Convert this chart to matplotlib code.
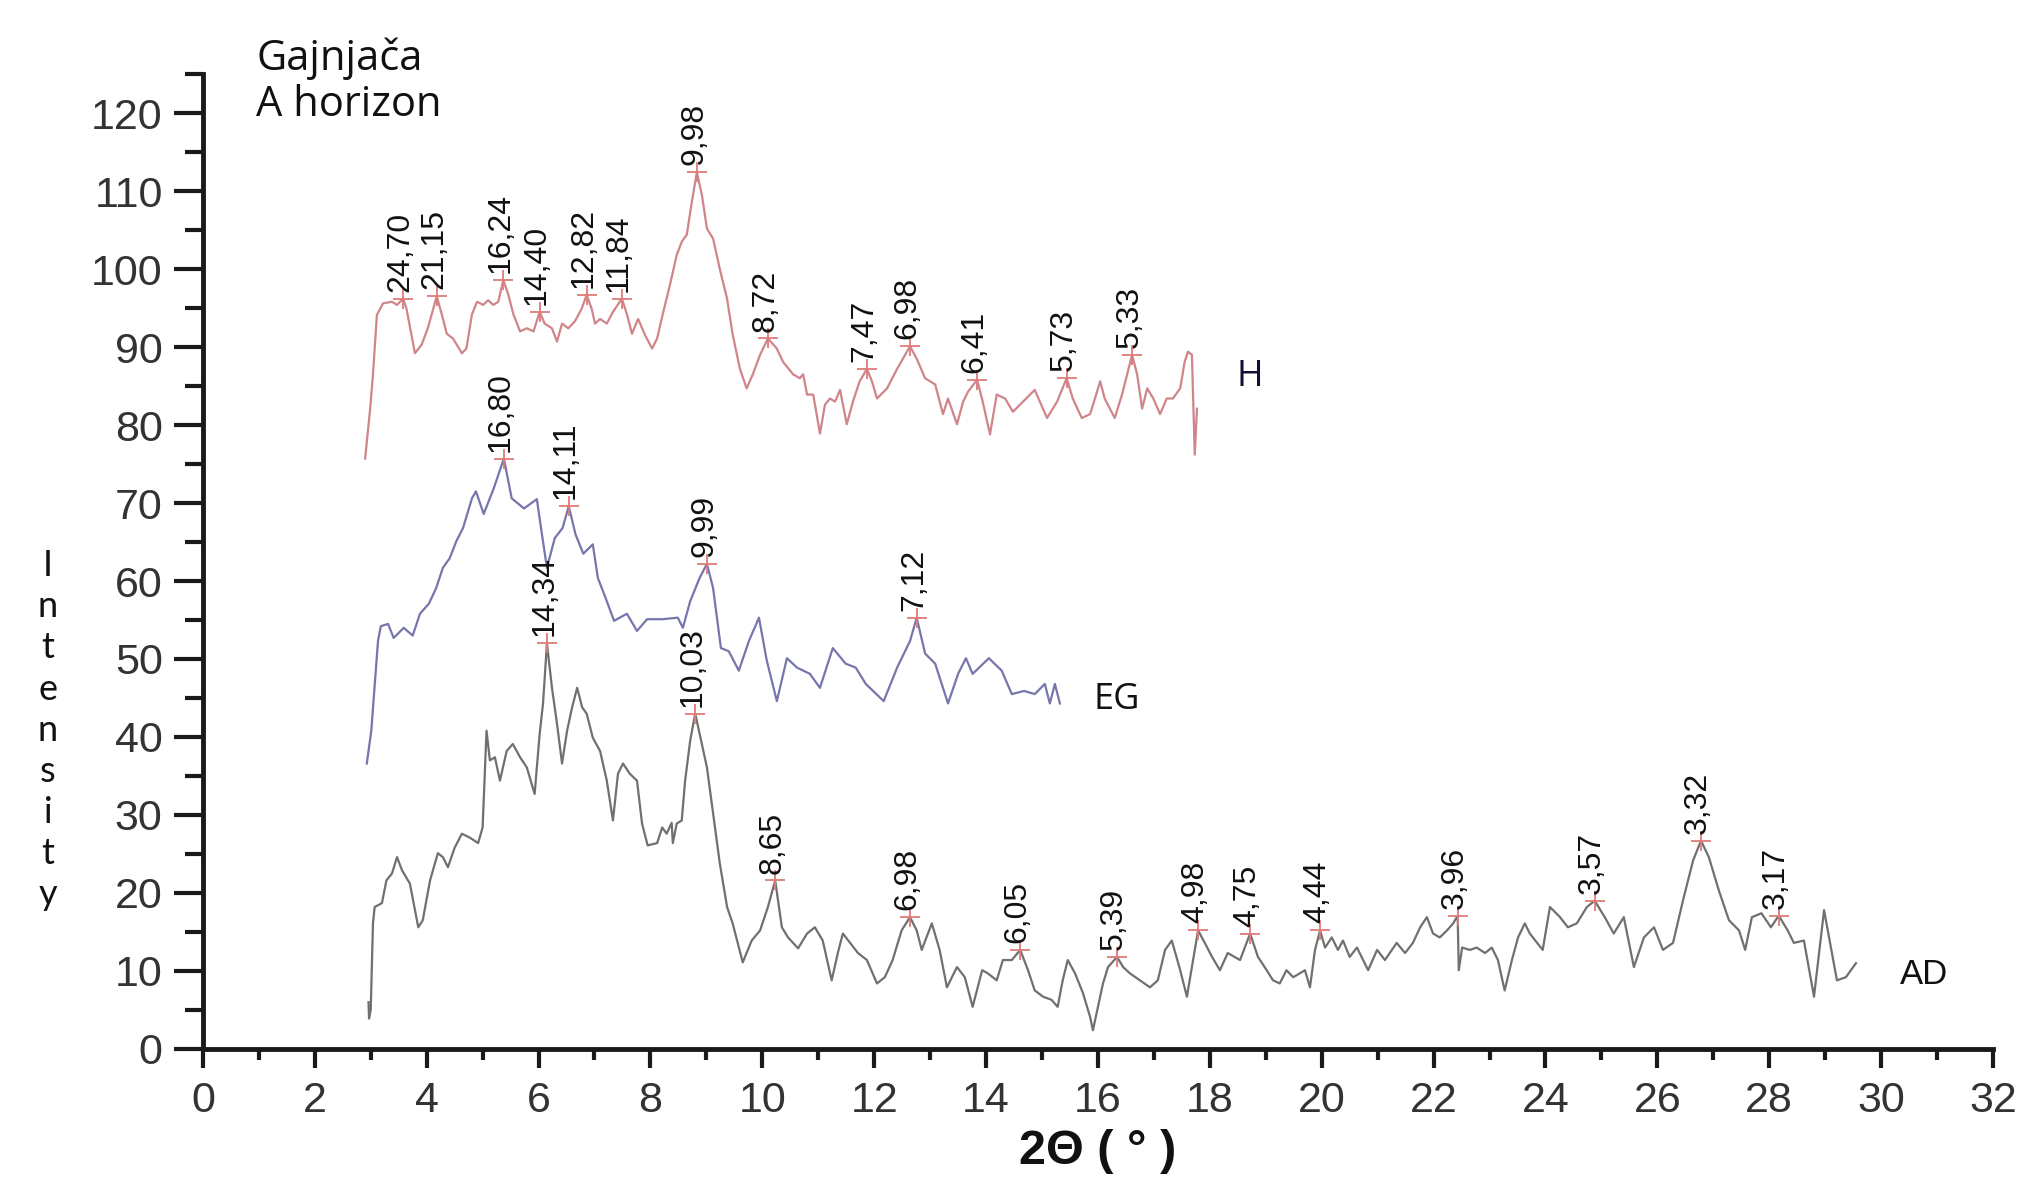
import matplotlib
matplotlib.use("Agg")
import matplotlib.pyplot as plt
from matplotlib.ticker import MultipleLocator

# H trace (red)
h_x = [2.90, 2.99, 3.04, 3.11, 3.22, 3.38, 3.47, 3.58, 3.64, 3.79, 3.91, 4.02, 4.18, 4.27, 4.36,
       4.47, 4.63, 4.71, 4.81, 4.90, 5.01, 5.10, 5.19, 5.28, 5.37, 5.46, 5.55, 5.67, 5.79, 5.91,
       6.02, 6.11, 6.24, 6.33, 6.42, 6.53, 6.65, 6.77, 6.86, 6.95, 7.01, 7.10, 7.22, 7.33, 7.49,
       7.58, 7.67, 7.78, 7.90, 8.03, 8.12, 8.22, 8.35, 8.47, 8.56, 8.65, 8.74, 8.83, 8.92, 9.01,
       9.12, 9.24, 9.37, 9.47, 9.60, 9.72, 9.83, 9.96, 10.10, 10.26, 10.37, 10.55, 10.67, 10.73,
       10.80, 10.91, 11.03, 11.12, 11.21, 11.30, 11.39, 11.51, 11.62, 11.74, 11.87, 11.96, 12.05,
       12.23, 12.41, 12.64, 12.76, 12.91, 13.09, 13.23, 13.32, 13.48, 13.59, 13.68, 13.84, 13.94,
       14.07, 14.19, 14.34, 14.48, 14.66, 14.87, 15.09, 15.27, 15.44, 15.55, 15.71, 15.86, 16.04,
       16.12, 16.30, 16.43, 16.61, 16.70, 16.79, 16.88, 16.99, 17.11, 17.23, 17.34, 17.47, 17.55,
       17.61, 17.68, 17.70, 17.73, 17.77]
h_y = [75.7, 82.1, 86.5, 94.1, 95.6, 95.8, 95.4, 96.2, 94.9, 89.2, 90.3, 92.4, 96.5, 94.2, 91.7,
       91.1, 89.2, 89.8, 94.2, 95.8, 95.4, 96.0, 95.4, 95.8, 98.6, 96.7, 94.2, 92.0, 92.4, 92.0,
       94.5, 93.0, 92.4, 90.7, 93.0, 92.4, 93.3, 94.9, 96.7, 94.9, 93.0, 93.6, 93.0, 94.5, 96.2,
       94.2, 91.7, 93.6, 91.6, 89.8, 91.1, 94.2, 98.0, 101.8, 103.5, 104.4, 108.6, 112.4, 109.5, 105.2,
       103.9, 100.0, 96.2, 91.6, 87.2, 84.7, 86.5, 89.0, 91.1, 89.8, 88.1, 86.5, 86.0, 86.5,
       83.9, 83.9, 78.9, 82.6, 83.4, 83.0, 84.5, 80.1, 83.0, 85.6, 87.2, 85.6, 83.4,
       84.7, 87.2, 90.1, 88.5, 86.0, 85.2, 81.4, 83.4, 80.1, 83.0, 84.3, 85.8, 83.0,
       78.8, 83.9, 83.4, 81.7, 83.0, 84.5, 80.9, 83.0, 86.0, 83.4, 80.9, 81.4, 85.6,
       83.4, 80.9, 83.9, 89.0, 86.5, 82.1, 84.7, 83.4, 81.4, 83.4, 83.4, 84.7, 88.1,
       89.4, 89.0, 83.9, 76.2, 82.1]

# EG trace (blue)
eg_x = [2.93, 3.01, 3.13, 3.18, 3.31, 3.41, 3.59, 3.75, 3.88, 4.04, 4.17, 4.29, 4.41, 4.53, 4.65,
        4.81, 4.88, 5.02, 5.20, 5.38, 5.52, 5.74, 5.97, 6.06, 6.15, 6.29, 6.43, 6.54, 6.66, 6.80,
        6.97, 7.06, 7.20, 7.35, 7.58, 7.76, 7.94, 8.21, 8.49, 8.58, 8.71, 8.88, 9.01, 9.12, 9.26,
        9.40, 9.58, 9.76, 9.94, 10.08, 10.26, 10.44, 10.62, 10.85, 11.03, 11.26, 11.49, 11.67, 11.85,
        12.17, 12.41, 12.64, 12.76, 12.91, 13.09, 13.32, 13.50, 13.64, 13.76, 14.05, 14.28, 14.46,
        14.68, 14.87, 15.05, 15.14, 15.23, 15.32]
eg_y = [36.6, 40.8, 52.3, 54.2, 54.5, 52.7, 54.0, 53.0, 55.8, 57.1, 59.1, 61.7, 62.9, 65.1, 66.8,
        70.6, 71.5, 68.6, 71.9, 75.7, 70.6, 69.3, 70.5, 66.0, 61.7, 65.5, 66.8, 69.6, 66.0, 63.5,
        64.7, 60.4, 57.8, 54.9, 55.8, 53.6, 55.1, 55.1, 55.3, 54.0, 57.4, 60.4, 62.2, 59.1, 51.4,
        51.0, 48.5, 52.3, 55.3, 49.8, 44.6, 50.1, 48.9, 48.1, 46.3, 51.4, 49.4, 48.9, 46.8,
        44.6, 48.9, 52.3, 55.3, 50.7, 49.4, 44.3, 48.1, 50.1, 48.1, 50.1, 48.5, 45.5,
        45.9, 45.5, 46.8, 44.3, 46.8, 44.3]

# AD trace (grey)
ad_x = [2.96, 2.97, 3.00, 3.04, 3.07, 3.20, 3.28, 3.38, 3.47, 3.56, 3.70, 3.85, 3.93, 4.06, 4.20,
        4.29, 4.38, 4.50, 4.63, 4.77, 4.92, 5.00, 5.07, 5.13, 5.22, 5.31, 5.43, 5.54, 5.67, 5.79,
        5.93, 6.02, 6.08, 6.15, 6.24, 6.33, 6.42, 6.51, 6.60, 6.69, 6.78, 6.86, 6.97, 7.10, 7.22,
        7.33, 7.42, 7.51, 7.63, 7.76, 7.85, 7.95, 8.12, 8.21, 8.29, 8.38, 8.40, 8.47, 8.56, 8.62,
        8.71, 8.80, 8.88, 9.01, 9.12, 9.24, 9.37, 9.47, 9.65, 9.81, 9.96, 10.10, 10.23, 10.35,
        10.46, 10.64, 10.80, 10.94, 11.08, 11.24, 11.35, 11.44, 11.57, 11.71, 11.87, 12.05, 12.19,
        12.33, 12.49, 12.64, 12.76, 12.85, 13.03, 13.17, 13.30, 13.48, 13.62, 13.76, 13.93, 14.03,
        14.19, 14.30, 14.46, 14.61, 14.75, 14.87, 15.02, 15.17, 15.28, 15.37, 15.46, 15.59, 15.73,
        15.86, 15.91, 16.00, 16.09, 16.18, 16.34, 16.45, 16.57, 16.75, 16.93, 17.07, 17.20, 17.32,
        17.47, 17.59, 17.68, 17.79, 17.91, 18.04, 18.18, 18.32, 18.54, 18.72, 18.86, 18.98, 19.13,
        19.25, 19.37, 19.49, 19.61, 19.70, 19.79, 19.88, 19.97, 20.06, 20.18, 20.29, 20.38, 20.50,
        20.63, 20.83, 20.99, 21.13, 21.34, 21.49, 21.63, 21.76, 21.88, 21.99, 22.11, 22.24, 22.35,
        22.43, 22.45, 22.51, 22.65, 22.77, 22.92, 23.04, 23.15, 23.27, 23.40, 23.51, 23.63, 23.72,
        23.85, 23.95, 24.08, 24.26, 24.40, 24.56, 24.74, 24.88, 25.06, 25.22, 25.40, 25.58, 25.76,
        25.94, 26.10, 26.28, 26.46, 26.64, 26.78, 26.92, 27.10, 27.28, 27.46, 27.57, 27.69, 27.86,
        28.03, 28.17, 28.33, 28.44, 28.62, 28.80, 28.98, 29.21, 29.37, 29.55]
ad_y = [6.0, 3.9, 5.0, 16.1, 18.2, 18.7, 21.6, 22.5, 24.6, 22.9, 21.2, 15.6, 16.5, 21.6, 25.1,
        24.6, 23.3, 25.8, 27.6, 27.1, 26.4, 28.4, 40.8, 37.0, 37.4, 34.4, 38.2, 39.1, 37.4, 36.1,
        32.7, 40.4, 44.3, 52.0, 46.3, 41.7, 36.6, 40.8, 43.8, 46.3, 43.8, 43.0, 39.9, 38.2, 34.4,
        29.3, 35.3, 36.6, 35.3, 34.4, 28.9, 26.1, 26.4, 28.4, 27.6, 29.0, 26.4, 28.9, 29.3, 34.4,
        39.5, 43.0, 40.4, 36.1, 30.2, 23.8, 18.2, 16.1, 11.1, 13.9, 15.2, 18.2, 21.6, 15.6,
        14.3, 12.9, 14.8, 15.6, 13.9, 8.8, 12.3, 14.8, 13.6, 12.3, 11.4, 8.4, 9.2,
        11.4, 15.2, 16.9, 15.2, 12.7, 16.1, 12.7, 7.9, 10.5, 9.2, 5.4, 10.1, 9.7,
        8.8, 11.4, 11.4, 12.7, 10.1, 7.5, 6.7, 6.3, 5.4, 8.8, 11.4, 9.7, 7.2,
        4.1, 2.4, 5.4, 8.4, 10.5, 11.8, 10.5, 9.7, 8.8, 7.9, 8.8, 12.7, 13.9,
        10.1, 6.7, 10.5, 15.2, 13.6, 11.8, 10.1, 12.3, 11.4, 14.8, 11.8, 10.5, 8.8,
        8.4, 10.1, 9.2, 9.7, 10.1, 7.9, 12.7, 15.2, 13.0, 14.3, 12.7, 13.9, 11.8,
        13.0, 10.1, 12.7, 11.4, 13.6, 12.3, 13.6, 15.6, 16.9, 14.8, 14.3, 15.2, 16.1,
        17.1, 10.1, 13.0, 12.7, 13.0, 12.3, 13.0, 11.4, 7.5, 11.4, 14.3, 16.1, 14.8,
        13.6, 12.7, 18.2, 16.9, 15.6, 16.1, 18.2, 19.0, 16.9, 14.8, 16.9, 10.5, 14.3,
        15.6, 12.7, 13.6, 19.1, 24.2, 26.7, 24.6, 20.3, 16.5, 15.2, 12.7, 16.9, 17.4,
        15.6, 17.1, 15.2, 13.6, 13.9, 6.7, 17.8, 8.8, 9.2, 11.0]

# peak positions and d-spacing labels
h_pk_x = [3.58, 4.18, 5.37, 6.02, 6.86, 7.49, 8.83, 10.10, 11.87, 12.64, 13.84, 15.44, 16.61]
h_pk_y = [96.2, 96.5, 98.6, 94.5, 96.7, 96.2, 112.4, 91.1, 87.2, 90.1, 85.8, 86.0, 89.0]
h_pk_lbl = ["24,70", "21,15", "16,24", "14,40", "12,82", "11,84", "9,98", "8,72",
            "7,47", "6,98", "6,41", "5,73", "5,33"]

eg_pk_x = [5.38, 6.54, 9.01, 12.76]
eg_pk_y = [75.7, 69.6, 62.2, 55.3]
eg_pk_lbl = ["16,80", "14,11", "9,99", "7,12"]

ad_pk_x = [6.15, 8.80, 10.23, 12.64, 14.61, 16.34, 17.79, 18.72, 19.97, 22.43, 24.88, 26.78, 28.17]
ad_pk_y = [52.0, 43.0, 21.6, 16.9, 12.7, 11.8, 15.2, 14.8, 15.2, 17.1, 19.0, 26.7, 17.1]
ad_pk_lbl = ["14,34", "10,03", "8,65", "6,98", "6,05", "5,39", "4,98", "4,75",
             "4,44", "3,96", "3,57", "3,32", "3,17"]

fig = plt.figure(figsize=(20.25, 11.81), dpi=100)
ax = fig.add_axes([0.1002, 0.1118, 0.8840, 0.8255])

ax.plot(h_x, h_y, color='#cf8589', lw=1.6)
ax.plot(eg_x, eg_y, color='#7676ad', lw=1.6)
ax.plot(ad_x, ad_y, color='#707070', lw=1.6)

for px, py, lbls in [(h_pk_x, h_pk_y, h_pk_lbl), (eg_pk_x, eg_pk_y, eg_pk_lbl),
                     (ad_pk_x, ad_pk_y, ad_pk_lbl)]:
    ax.plot(px, py, ls='none', marker='+', ms=15, mew=1.3, color='#e07a7a')
    for x, y, t in zip(px, py, lbls):
        ax.annotate(t, (x, y), xytext=(-2, 5), textcoords='offset points',
                    rotation=90, ha='center', va='bottom', fontsize=23,
                    family='Liberation Sans', color='#111111')

# trace names
ax.text(18.72, 86.2, 'H', fontsize=26, family='Open Sans', ha='center', va='center', color='#111133')
ax.text(16.34, 44.8, 'EG', fontsize=26, family='Open Sans', ha='center', va='center', color='#111111')
ax.text(30.76, 9.6, 'AD', fontsize=25, family='Liberation Sans', ha='center', va='center', color='#111111')

ax.text(0.95, 124.0, 'Gajnjača\nA horizon', fontsize=30, family='Open Sans',
        ha='left', va='center', linespacing=1.1, color='#111111')

ax.set_xlim(0, 32)
ax.set_ylim(0, 125)
ax.xaxis.set_major_locator(MultipleLocator(2))
ax.xaxis.set_minor_locator(MultipleLocator(1))
ax.yaxis.set_major_locator(MultipleLocator(10))
ax.yaxis.set_minor_locator(MultipleLocator(5))
ax.set_yticks(range(0, 121, 10))

for s in ['top', 'right']:
    ax.spines[s].set_visible(False)
for s in ['left', 'bottom']:
    ax.spines[s].set_linewidth(3.5)
    ax.spines[s].set_color('#1a1a1a')

ax.tick_params(axis='x', which='major', direction='out', length=14, width=3, pad=9,
               labelsize=31, labelcolor='#333333', color='#1a1a1a')
ax.tick_params(axis='x', which='minor', direction='out', length=8, width=3, color='#1a1a1a')
ax.tick_params(axis='y', which='major', direction='out', length=21, width=3, pad=8,
               labelsize=31, labelcolor='#333333', color='#1a1a1a')
ax.tick_params(axis='y', which='minor', direction='out', length=13, width=3, color='#1a1a1a')
for lab in ax.get_xticklabels() + ax.get_yticklabels():
    lab.set_family('Liberation Sans')

ax.set_xlabel('2Θ ( ° )', fontsize=35, fontweight='bold', family='Liberation Sans',
              color='#111111', va='center')
ax.xaxis.set_label_coords(0.5, -0.105)
ax.set_ylabel('\n'.join('Intensity'), rotation=0, fontsize=26, family='Lato',
              linespacing=1.3, va='center', ha='center', color='#111111')
ax.yaxis.set_label_coords(-0.0866, 0.327)

fig.savefig('out.png', dpi=100)
